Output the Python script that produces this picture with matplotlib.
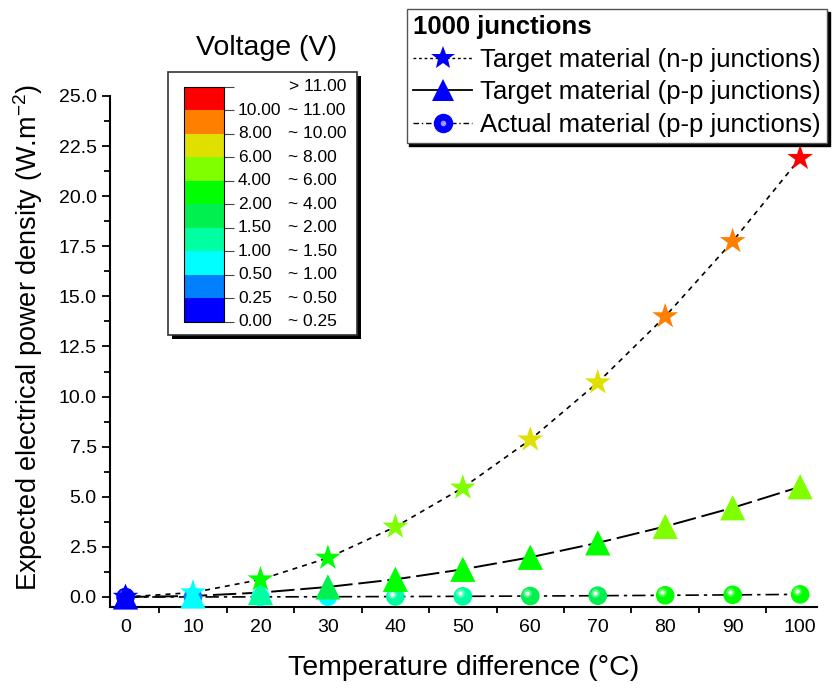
import matplotlib
matplotlib.use("Agg")
import matplotlib.pyplot as plt
from matplotlib.colors import ListedColormap, BoundaryNorm
from matplotlib.cm import ScalarMappable
from matplotlib.lines import Line2D
from matplotlib.patches import Rectangle
from matplotlib.legend_handler import HandlerTuple
from matplotlib.transforms import offset_copy, blended_transform_factory

plt.rcParams["font.family"] = ["Liberation Sans", "DejaVu Sans"]

# data
temp_diff = [0, 10, 20, 30, 40, 50, 60, 70, 80, 90, 100]
power_np_target = [0.0, 0.22, 0.87, 1.95, 3.5, 5.45, 7.85, 10.7, 14.0, 17.75, 21.9]
power_pp_target = [0.0, 0.05, 0.22, 0.5, 0.88, 1.38, 1.98, 2.7, 3.52, 4.45, 5.5]
power_pp_actual = [0.0, 0.002, 0.005, 0.012, 0.021, 0.033, 0.047, 0.064, 0.083, 0.105, 0.13]

# voltage class of every point (index into voltage_colors)
vbin_np_target = [0, 2, 5, 5, 6, 6, 7, 7, 8, 8, 9]
vbin_pp_target = [0, 2, 3, 4, 5, 5, 5, 5, 6, 6, 6]
vbin_pp_actual = [0, 1, 2, 2, 3, 3, 4, 4, 5, 5, 5]

voltage_colors = ["#0000ff", "#0080ff", "#00ffff", "#00ffa0", "#00f050",
                  "#00ff00", "#80ff00", "#dfdf00", "#ff8000", "#ff0000"]
voltage_low = ["0.00", "0.25", "0.50", "1.00", "1.50", "2.00", "4.00", "6.00", "8.00", "10.00"]
voltage_high = ["0.25", "0.50", "1.00", "1.50", "2.00", "4.00", "6.00", "8.00", "10.00", "11.00"]
voltage_top = "> 11.00"

W, H = 833, 688
fig = plt.figure(figsize=(W / 100, H / 100), dpi=100)
ax = fig.add_axes([110 / W, 1 - 607 / H, 707 / W, 511 / H])

# lines
ax.plot(temp_diff, power_np_target, color="black", lw=1.2, ls=(0, (3, 3)), zorder=1)
ax.plot(temp_diff, power_pp_target, color="black", lw=1.4, ls=(0, (12, 3)), zorder=1)
ax.plot(temp_diff, power_pp_actual, color="black", lw=1.2, ls=(0, (8, 3, 2, 3)), zorder=1)

def cols(bins):
    return [voltage_colors[b] for b in bins]

ax.scatter(temp_diff, power_pp_actual, s=180, c=cols(vbin_pp_actual), marker="o",
           linewidths=0, zorder=3, clip_on=False)
hl = offset_copy(ax.transData, fig=fig, x=-3, y=3, units="dots")
ax.scatter(temp_diff, power_pp_actual, s=40, c="white", alpha=0.3, marker="o",
           linewidths=0, zorder=3.1, clip_on=False, transform=hl)
ax.scatter(temp_diff, power_pp_actual, s=10, c="white", alpha=0.9, marker="o",
           linewidths=0, zorder=3.2, clip_on=False, transform=hl)
ax.scatter(temp_diff, power_pp_target, s=330, c=cols(vbin_pp_target), marker="^",
           linewidths=0, zorder=4, clip_on=False)
ax.scatter(temp_diff, power_np_target, s=380, c=cols(vbin_np_target), marker="*",
           linewidths=0, zorder=5, clip_on=False)

ax.set_xlim(-2.3, 102.5)
ax.set_ylim(-0.5, 25)
ax.set_xticks(temp_diff)
ax.set_xticks([5, 15, 25, 35, 45, 55, 65, 75, 85, 95], minor=True)
ax.set_yticks([0, 2.5, 5, 7.5, 10, 12.5, 15, 17.5, 20, 22.5, 25])
ax.set_yticks([1.25 + 2.5 * i for i in range(10)], minor=True)
ax.yaxis.set_major_formatter(matplotlib.ticker.FormatStrFormatter("%.1f"))
ax.tick_params(axis="both", which="both", direction="out", labelsize=14, width=1.3)
ax.tick_params(axis="y", which="major", length=6)
ax.tick_params(axis="y", which="minor", length=4)
ax.tick_params(axis="x", which="major", length=0, pad=9)
ax.tick_params(axis="x", which="minor", length=4)
for side in ["top", "right"]:
    ax.spines[side].set_visible(False)
for side in ["left", "bottom"]:
    ax.spines[side].set_linewidth(1.5)
ax.set_xlabel("Temperature difference (°C)", fontsize=20.5, labelpad=13)
ax.set_ylabel("Expected electrical power density (W.m$^{\\mathregular{-2}}$)",
              fontsize=19.5)
ax.yaxis.set_label_coords(-0.092, 0.528)

# series legend
h_np = Line2D([], [], color="black", lw=1.0, ls=(0, (2, 2)), marker="*",
              markersize=18, markerfacecolor="blue", markeredgewidth=0)
h_pp = Line2D([], [], color="black", lw=1.3, ls="-", marker="^",
              markersize=16, markerfacecolor="blue", markeredgewidth=0)
h_act = Line2D([], [], color="black", lw=1.0, ls=(0, (4, 2, 1, 2)), marker="o",
               markersize=14, markerfacecolor="blue", markeredgewidth=0)
h_act_hl = Line2D([], [], ls="none", marker="o", markersize=4,
                  markerfacecolor="white", alpha=0.6, markeredgewidth=0)
leg = fig.legend([h_np, h_pp, (h_act, h_act_hl)],
                 ["Target material (n-p junctions)", "Target material (p-p junctions)",
                  "Actual material (p-p junctions)"],
                 handler_map={tuple: HandlerTuple(ndivide=1)},
                 loc="upper right", bbox_to_anchor=(827 / W, 1 - 9 / H),
                 title="1000 junctions", alignment="left",
                 fontsize=18.5, title_fontsize=18.5, frameon=True, fancybox=False,
                 shadow={"color": "black", "alpha": 1},
                 handlelength=2.3, handletextpad=0.3, labelspacing=0.33,
                 borderpad=0.25, borderaxespad=0)
leg.get_title().set_fontweight("bold")
leg.get_frame().set_edgecolor("#555555")
leg.get_frame().set_linewidth(1.0)

# voltage legend
box_x0, box_y0, box_x1, box_y1 = 168, 72, 357, 335
fig.add_artist(Rectangle(((box_x0 + 4) / W, 1 - (box_y1 + 4) / H),
                         (box_x1 - box_x0) / W, (box_y1 - box_y0) / H,
                         transform=fig.transFigure, facecolor="black",
                         edgecolor="none", zorder=6))
fig.add_artist(Rectangle((box_x0 / W, 1 - box_y1 / H),
                         (box_x1 - box_x0) / W, (box_y1 - box_y0) / H,
                         transform=fig.transFigure, facecolor="white",
                         edgecolor="#333333", lw=1.2, zorder=6.1))
fig.text(267 / W, 1 - 48 / H, "Voltage (V)", fontsize=20.5, ha="center", va="center")

cax = fig.add_axes([184 / W, 1 - 322 / H, 40 / W, 235 / H], zorder=7)
n = len(voltage_colors)
cmap = ListedColormap(voltage_colors)
norm = BoundaryNorm(list(range(n + 1)), n)
cb = fig.colorbar(ScalarMappable(norm=norm, cmap=cmap), cax=cax, ticks=list(range(n + 1)))
cb.outline.set_linewidth(0.8)
cax.tick_params(axis="y", direction="out", length=7, width=0.8, color="#444444",
                labelright=False)
tr = blended_transform_factory(cax.transAxes, cax.transData)
for i in range(n):
    cax.text(1.35, i, voltage_low[i], transform=tr, fontsize=12.5, ha="left", va="center")
    cax.text(2.6, i, "~ " + voltage_high[i], transform=tr, fontsize=12.5, ha="left", va="center")
cax.text(4.05, n, voltage_top, transform=tr, fontsize=12.5, ha="right", va="center")

fig.savefig("out.png", dpi=100)
